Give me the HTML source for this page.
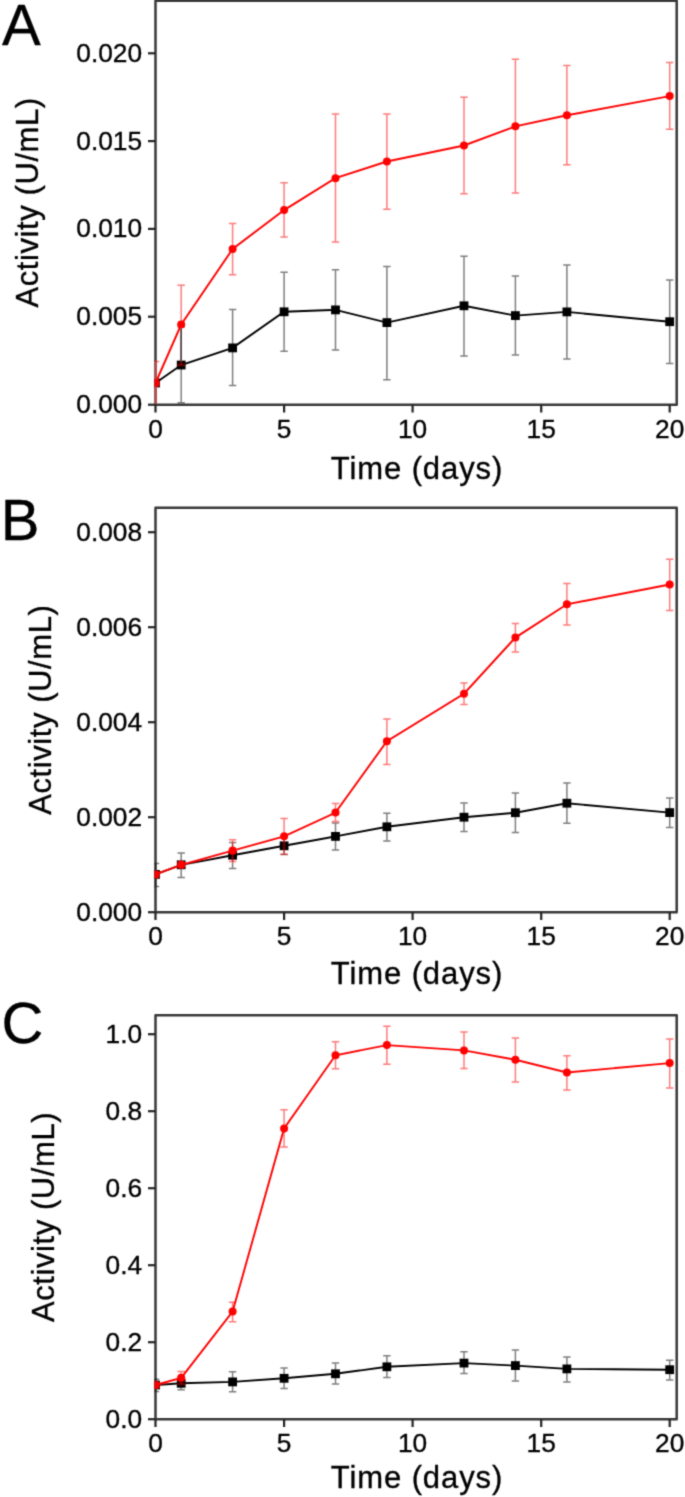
<!DOCTYPE html>
<html lang="en"><head><meta charset="utf-8"><title>Activity vs time</title>
<style>
html,body{margin:0;padding:0;background:#fff;}
body{width:685px;height:1497px;overflow:hidden;}
svg{display:block;}
text{font-family:"Liberation Sans",Arial,Helvetica,sans-serif;fill:#000;stroke:#000;stroke-width:0.35px;}
.tick{font-size:26.3px;}
.title{font-size:31px;letter-spacing:0.58px;}
.letter{font-size:58px;}
</style></head><body>
<svg width="685" height="1497" viewBox="0 0 685 1497">
<defs><filter id="soft" x="0" y="0" width="685" height="1497" filterUnits="userSpaceOnUse"><feConvolveMatrix order="3" kernelMatrix="1 4 1 4 16 4 1 4 1" edgeMode="duplicate" preserveAlpha="false"/></filter></defs>
<rect x="0" y="0" width="685" height="1497" fill="#fff"/>
<g filter="url(#soft)">

<g>
<rect x="155.5" y="0.7" width="521.2" height="404" fill="none" stroke="#383838" stroke-width="2.5" stroke-linejoin="round"/>
<line x1="148" y1="404.7" x2="155.5" y2="404.7" stroke="#222" stroke-width="2.2"/>
<text class="tick" x="142.1" y="413.2" text-anchor="end">0.000</text>
<line x1="148" y1="316.7" x2="155.5" y2="316.7" stroke="#222" stroke-width="2.2"/>
<text class="tick" x="142.1" y="325.2" text-anchor="end">0.005</text>
<line x1="148" y1="228.9" x2="155.5" y2="228.9" stroke="#222" stroke-width="2.2"/>
<text class="tick" x="142.1" y="237.4" text-anchor="end">0.010</text>
<line x1="148" y1="141.1" x2="155.5" y2="141.1" stroke="#222" stroke-width="2.2"/>
<text class="tick" x="142.1" y="149.6" text-anchor="end">0.015</text>
<line x1="148" y1="53.3" x2="155.5" y2="53.3" stroke="#222" stroke-width="2.2"/>
<text class="tick" x="142.1" y="61.8" text-anchor="end">0.020</text>
<line x1="155.5" y1="404.7" x2="155.5" y2="412.5" stroke="#222" stroke-width="2.2"/>
<text class="tick" x="155.5" y="437.9" text-anchor="middle">0</text>
<line x1="284.1" y1="404.7" x2="284.1" y2="412.5" stroke="#222" stroke-width="2.2"/>
<text class="tick" x="284.1" y="437.9" text-anchor="middle">5</text>
<line x1="412.6" y1="404.7" x2="412.6" y2="412.5" stroke="#222" stroke-width="2.2"/>
<text class="tick" x="412.6" y="437.9" text-anchor="middle">10</text>
<line x1="541.2" y1="404.7" x2="541.2" y2="412.5" stroke="#222" stroke-width="2.2"/>
<text class="tick" x="541.2" y="437.9" text-anchor="middle">15</text>
<line x1="669.7" y1="404.7" x2="669.7" y2="412.5" stroke="#222" stroke-width="2.2"/>
<text class="tick" x="669.7" y="437.9" text-anchor="middle">20</text>
<text class="title" style="letter-spacing:0.9px" x="417" y="479.4" text-anchor="middle">Time (days)</text>
<text class="title" transform="translate(37.8 202.4) rotate(-90)" text-anchor="middle">Activity (U/mL)</text>
<text class="letter" x="2" y="44.9">A</text>
<clipPath id="clipA"><rect x="154.5" y="0.7" width="522.2" height="404"/></clipPath>
<g clip-path="url(#clipA)">
<path d="M181.2 327V402.7M177.5 327H184.9M177.5 402.7H184.9" stroke="#000" stroke-opacity="0.5" stroke-width="1.5" fill="none"/>
<path d="M232.6 309.5V385.5M228.9 309.5H236.3M228.9 385.5H236.3" stroke="#000" stroke-opacity="0.5" stroke-width="1.5" fill="none"/>
<path d="M284.1 272.3V351.3M280.4 272.3H287.8M280.4 351.3H287.8" stroke="#000" stroke-opacity="0.5" stroke-width="1.5" fill="none"/>
<path d="M335.5 269.8V350M331.8 269.8H339.2M331.8 350H339.2" stroke="#000" stroke-opacity="0.5" stroke-width="1.5" fill="none"/>
<path d="M386.9 266.6V379.8M383.2 266.6H390.6M383.2 379.8H390.6" stroke="#000" stroke-opacity="0.5" stroke-width="1.5" fill="none"/>
<path d="M464 256.3V356.1M460.3 256.3H467.7M460.3 356.1H467.7" stroke="#000" stroke-opacity="0.5" stroke-width="1.5" fill="none"/>
<path d="M515.4 276V354.9M511.7 276H519.1M511.7 354.9H519.1" stroke="#000" stroke-opacity="0.5" stroke-width="1.5" fill="none"/>
<path d="M566.9 264.9V359M563.2 264.9H570.6M563.2 359H570.6" stroke="#000" stroke-opacity="0.5" stroke-width="1.5" fill="none"/>
<path d="M669.7 280V363.5M666 280H673.4M666 363.5H673.4" stroke="#000" stroke-opacity="0.5" stroke-width="1.5" fill="none"/>
<polyline fill="none" stroke="#000" stroke-width="1.9" points="155.5,383 181.2,365 232.6,347.9 284.1,311.8 335.5,309.9 386.9,322.6 464,305.8 515.4,315.6 566.9,311.9 669.7,321.7"/>
<rect x="151.1" y="378.6" width="8.8" height="8.8" fill="#000"/>
<rect x="176.8" y="360.6" width="8.8" height="8.8" fill="#000"/>
<rect x="228.2" y="343.5" width="8.8" height="8.8" fill="#000"/>
<rect x="279.7" y="307.4" width="8.8" height="8.8" fill="#000"/>
<rect x="331.1" y="305.5" width="8.8" height="8.8" fill="#000"/>
<rect x="382.5" y="318.2" width="8.8" height="8.8" fill="#000"/>
<rect x="459.6" y="301.4" width="8.8" height="8.8" fill="#000"/>
<rect x="511" y="311.2" width="8.8" height="8.8" fill="#000"/>
<rect x="562.5" y="307.5" width="8.8" height="8.8" fill="#000"/>
<rect x="665.3" y="317.3" width="8.8" height="8.8" fill="#000"/>
<path d="M151.8 361.6H159.2" stroke="#f00" stroke-opacity="0.52" stroke-width="1.5" fill="none"/>
<path d="M155.8 361.6V403.7" stroke="#cc4444" stroke-width="1.9" fill="none"/>
<path d="M181.2 285.2V365M177.5 285.2H184.9M177.5 365H184.9" stroke="#f00" stroke-opacity="0.52" stroke-width="1.5" fill="none"/>
<path d="M232.6 223.6V274.7M228.9 223.6H236.3M228.9 274.7H236.3" stroke="#f00" stroke-opacity="0.52" stroke-width="1.5" fill="none"/>
<path d="M284.1 182.7V237.1M280.4 182.7H287.8M280.4 237.1H287.8" stroke="#f00" stroke-opacity="0.52" stroke-width="1.5" fill="none"/>
<path d="M335.5 114.1V242M331.8 114.1H339.2M331.8 242H339.2" stroke="#f00" stroke-opacity="0.52" stroke-width="1.5" fill="none"/>
<path d="M386.9 114.1V209.3M383.2 114.1H390.6M383.2 209.3H390.6" stroke="#f00" stroke-opacity="0.52" stroke-width="1.5" fill="none"/>
<path d="M464 97.3V193.8M460.3 97.3H467.7M460.3 193.8H467.7" stroke="#f00" stroke-opacity="0.52" stroke-width="1.5" fill="none"/>
<path d="M515.4 59.3V193M511.7 59.3H519.1M511.7 193H519.1" stroke="#f00" stroke-opacity="0.52" stroke-width="1.5" fill="none"/>
<path d="M566.9 65.4V164.8M563.2 65.4H570.6M563.2 164.8H570.6" stroke="#f00" stroke-opacity="0.52" stroke-width="1.5" fill="none"/>
<path d="M669.7 62.6V129.2M666 62.6H673.4M666 129.2H673.4" stroke="#f00" stroke-opacity="0.52" stroke-width="1.5" fill="none"/>
<polyline fill="none" stroke="#f00" stroke-width="1.9" points="155.5,383 181.2,324.5 232.6,249 284.1,210.1 335.5,178.2 386.9,161.5 464,145.5 515.4,126.3 566.9,115.3 669.7,96.1"/>
<circle cx="155.5" cy="383" r="4.0" fill="#f00"/>
<circle cx="181.2" cy="324.5" r="4.0" fill="#f00"/>
<circle cx="232.6" cy="249" r="4.0" fill="#f00"/>
<circle cx="284.1" cy="210.1" r="4.0" fill="#f00"/>
<circle cx="335.5" cy="178.2" r="4.0" fill="#f00"/>
<circle cx="386.9" cy="161.5" r="4.0" fill="#f00"/>
<circle cx="464" cy="145.5" r="4.0" fill="#f00"/>
<circle cx="515.4" cy="126.3" r="4.0" fill="#f00"/>
<circle cx="566.9" cy="115.3" r="4.0" fill="#f00"/>
<circle cx="669.7" cy="96.1" r="4.0" fill="#f00"/>
<line x1="181.2" y1="328.5" x2="181.2" y2="361" stroke="#4c4848" stroke-width="1.6"/>
</g>
</g>
<g>
<rect x="155.5" y="507.8" width="521.2" height="404.4" fill="none" stroke="#383838" stroke-width="2.5" stroke-linejoin="round"/>
<line x1="148" y1="912.2" x2="155.5" y2="912.2" stroke="#222" stroke-width="2.2"/>
<text class="tick" x="142.1" y="920.7" text-anchor="end">0.000</text>
<line x1="148" y1="817.2" x2="155.5" y2="817.2" stroke="#222" stroke-width="2.2"/>
<text class="tick" x="142.1" y="825.7" text-anchor="end">0.002</text>
<line x1="148" y1="722.2" x2="155.5" y2="722.2" stroke="#222" stroke-width="2.2"/>
<text class="tick" x="142.1" y="730.7" text-anchor="end">0.004</text>
<line x1="148" y1="627.2" x2="155.5" y2="627.2" stroke="#222" stroke-width="2.2"/>
<text class="tick" x="142.1" y="635.7" text-anchor="end">0.006</text>
<line x1="148" y1="532.2" x2="155.5" y2="532.2" stroke="#222" stroke-width="2.2"/>
<text class="tick" x="142.1" y="540.7" text-anchor="end">0.008</text>
<line x1="155.5" y1="912.2" x2="155.5" y2="920" stroke="#222" stroke-width="2.2"/>
<text class="tick" x="155.5" y="945.4" text-anchor="middle">0</text>
<line x1="284.1" y1="912.2" x2="284.1" y2="920" stroke="#222" stroke-width="2.2"/>
<text class="tick" x="284.1" y="945.4" text-anchor="middle">5</text>
<line x1="412.6" y1="912.2" x2="412.6" y2="920" stroke="#222" stroke-width="2.2"/>
<text class="tick" x="412.6" y="945.4" text-anchor="middle">10</text>
<line x1="541.2" y1="912.2" x2="541.2" y2="920" stroke="#222" stroke-width="2.2"/>
<text class="tick" x="541.2" y="945.4" text-anchor="middle">15</text>
<line x1="669.7" y1="912.2" x2="669.7" y2="920" stroke="#222" stroke-width="2.2"/>
<text class="tick" x="669.7" y="945.4" text-anchor="middle">20</text>
<text class="title" style="letter-spacing:0.9px" x="417" y="984.4" text-anchor="middle">Time (days)</text>
<text class="title" transform="translate(50.7 709.7) rotate(-90)" text-anchor="middle">Activity (U/mL)</text>
<text class="letter" x="0.8" y="540">B</text>
<clipPath id="clipB"><rect x="154.5" y="507.8" width="522.2" height="404.4"/></clipPath>
<g clip-path="url(#clipB)">
<path d="M155.5 863.5V886.4M151.8 863.5H159.2M151.8 886.4H159.2" stroke="#000" stroke-opacity="0.5" stroke-width="1.5" fill="none"/>
<path d="M181.2 853.1V877.5M177.5 853.1H184.9M177.5 877.5H184.9" stroke="#000" stroke-opacity="0.5" stroke-width="1.5" fill="none"/>
<path d="M232.6 842.6V868.4M228.9 842.6H236.3M228.9 868.4H236.3" stroke="#000" stroke-opacity="0.5" stroke-width="1.5" fill="none"/>
<path d="M284.1 837.2V854.6M280.4 837.2H287.8M280.4 854.6H287.8" stroke="#000" stroke-opacity="0.5" stroke-width="1.5" fill="none"/>
<path d="M335.5 823V850M331.8 823H339.2M331.8 850H339.2" stroke="#000" stroke-opacity="0.5" stroke-width="1.5" fill="none"/>
<path d="M386.9 813.2V841M383.2 813.2H390.6M383.2 841H390.6" stroke="#000" stroke-opacity="0.5" stroke-width="1.5" fill="none"/>
<path d="M464 803V831.6M460.3 803H467.7M460.3 831.6H467.7" stroke="#000" stroke-opacity="0.5" stroke-width="1.5" fill="none"/>
<path d="M515.4 793.1V832.4M511.7 793.1H519.1M511.7 832.4H519.1" stroke="#000" stroke-opacity="0.5" stroke-width="1.5" fill="none"/>
<path d="M566.9 782.9V823.2M563.2 782.9H570.6M563.2 823.2H570.6" stroke="#000" stroke-opacity="0.5" stroke-width="1.5" fill="none"/>
<path d="M669.7 798V827.5M666 798H673.4M666 827.5H673.4" stroke="#000" stroke-opacity="0.5" stroke-width="1.5" fill="none"/>
<polyline fill="none" stroke="#000" stroke-width="1.9" points="155.5,874.4 181.2,864.8 232.6,855.3 284.1,845.8 335.5,836.4 386.9,826.8 464,817.2 515.4,812.7 566.9,803.2 669.7,812.6"/>
<rect x="151.1" y="870" width="8.8" height="8.8" fill="#000"/>
<rect x="176.8" y="860.4" width="8.8" height="8.8" fill="#000"/>
<rect x="228.2" y="850.9" width="8.8" height="8.8" fill="#000"/>
<rect x="279.7" y="841.4" width="8.8" height="8.8" fill="#000"/>
<rect x="331.1" y="832" width="8.8" height="8.8" fill="#000"/>
<rect x="382.5" y="822.4" width="8.8" height="8.8" fill="#000"/>
<rect x="459.6" y="812.8" width="8.8" height="8.8" fill="#000"/>
<rect x="511" y="808.3" width="8.8" height="8.8" fill="#000"/>
<rect x="562.5" y="798.8" width="8.8" height="8.8" fill="#000"/>
<rect x="665.3" y="808.2" width="8.8" height="8.8" fill="#000"/>
<path d="M232.6 839.8V861.4M228.9 839.8H236.3M228.9 861.4H236.3" stroke="#f00" stroke-opacity="0.52" stroke-width="1.5" fill="none"/>
<path d="M284.1 818.4V854.2M280.4 818.4H287.8M280.4 854.2H287.8" stroke="#f00" stroke-opacity="0.52" stroke-width="1.5" fill="none"/>
<path d="M335.5 803.6V821.6M331.8 803.6H339.2M331.8 821.6H339.2" stroke="#f00" stroke-opacity="0.52" stroke-width="1.5" fill="none"/>
<path d="M386.9 719V764.6M383.2 719H390.6M383.2 764.6H390.6" stroke="#f00" stroke-opacity="0.52" stroke-width="1.5" fill="none"/>
<path d="M464 682.9V704.5M460.3 682.9H467.7M460.3 704.5H467.7" stroke="#f00" stroke-opacity="0.52" stroke-width="1.5" fill="none"/>
<path d="M515.4 623.5V652M511.7 623.5H519.1M511.7 652H519.1" stroke="#f00" stroke-opacity="0.52" stroke-width="1.5" fill="none"/>
<path d="M566.9 583.6V625M563.2 583.6H570.6M563.2 625H570.6" stroke="#f00" stroke-opacity="0.52" stroke-width="1.5" fill="none"/>
<path d="M669.7 559.3V610.6M666 559.3H673.4M666 610.6H673.4" stroke="#f00" stroke-opacity="0.52" stroke-width="1.5" fill="none"/>
<polyline fill="none" stroke="#f00" stroke-width="1.9" points="155.5,874.4 181.2,864.8 232.6,850.6 284.1,836.3 335.5,812.6 386.9,741.2 464,693.7 515.4,637.6 566.9,604.3 669.7,584.5"/>
<circle cx="155.5" cy="874.4" r="4.0" fill="#f00"/>
<circle cx="181.2" cy="864.8" r="4.0" fill="#f00"/>
<circle cx="232.6" cy="850.6" r="4.0" fill="#f00"/>
<circle cx="284.1" cy="836.3" r="4.0" fill="#f00"/>
<circle cx="335.5" cy="812.6" r="4.0" fill="#f00"/>
<circle cx="386.9" cy="741.2" r="4.0" fill="#f00"/>
<circle cx="464" cy="693.7" r="4.0" fill="#f00"/>
<circle cx="515.4" cy="637.6" r="4.0" fill="#f00"/>
<circle cx="566.9" cy="604.3" r="4.0" fill="#f00"/>
<circle cx="669.7" cy="584.5" r="4.0" fill="#f00"/>
</g>
</g>
<g>
<rect x="155.5" y="1015.3" width="521.2" height="403.9" fill="none" stroke="#383838" stroke-width="2.5" stroke-linejoin="round"/>
<line x1="148" y1="1419.2" x2="155.5" y2="1419.2" stroke="#222" stroke-width="2.2"/>
<text class="tick" x="142.1" y="1427.7" text-anchor="end">0.0</text>
<line x1="148" y1="1342.2" x2="155.5" y2="1342.2" stroke="#222" stroke-width="2.2"/>
<text class="tick" x="142.1" y="1350.7" text-anchor="end">0.2</text>
<line x1="148" y1="1265.2" x2="155.5" y2="1265.2" stroke="#222" stroke-width="2.2"/>
<text class="tick" x="142.1" y="1273.7" text-anchor="end">0.4</text>
<line x1="148" y1="1188.2" x2="155.5" y2="1188.2" stroke="#222" stroke-width="2.2"/>
<text class="tick" x="142.1" y="1196.7" text-anchor="end">0.6</text>
<line x1="148" y1="1111.2" x2="155.5" y2="1111.2" stroke="#222" stroke-width="2.2"/>
<text class="tick" x="142.1" y="1119.7" text-anchor="end">0.8</text>
<line x1="148" y1="1034.2" x2="155.5" y2="1034.2" stroke="#222" stroke-width="2.2"/>
<text class="tick" x="142.1" y="1042.7" text-anchor="end">1.0</text>
<line x1="155.5" y1="1419.2" x2="155.5" y2="1427" stroke="#222" stroke-width="2.2"/>
<text class="tick" x="155.5" y="1452.4" text-anchor="middle">0</text>
<line x1="284.1" y1="1419.2" x2="284.1" y2="1427" stroke="#222" stroke-width="2.2"/>
<text class="tick" x="284.1" y="1452.4" text-anchor="middle">5</text>
<line x1="412.6" y1="1419.2" x2="412.6" y2="1427" stroke="#222" stroke-width="2.2"/>
<text class="tick" x="412.6" y="1452.4" text-anchor="middle">10</text>
<line x1="541.2" y1="1419.2" x2="541.2" y2="1427" stroke="#222" stroke-width="2.2"/>
<text class="tick" x="541.2" y="1452.4" text-anchor="middle">15</text>
<line x1="669.7" y1="1419.2" x2="669.7" y2="1427" stroke="#222" stroke-width="2.2"/>
<text class="tick" x="669.7" y="1452.4" text-anchor="middle">20</text>
<text class="title" style="letter-spacing:0.9px" x="417" y="1488.0" text-anchor="middle">Time (days)</text>
<text class="title" transform="translate(53.7 1217) rotate(-90)" text-anchor="middle">Activity (U/mL)</text>
<text class="letter" x="1.6" y="1042.8">C</text>
<clipPath id="clipC"><rect x="154.5" y="1015.3" width="522.2" height="403.9"/></clipPath>
<g clip-path="url(#clipC)">
<path d="M155.5 1379.3V1391.5M151.8 1379.3H159.2M151.8 1391.5H159.2" stroke="#000" stroke-opacity="0.5" stroke-width="1.5" fill="none"/>
<path d="M181.2 1377.5V1389.7M177.5 1377.5H184.9M177.5 1389.7H184.9" stroke="#000" stroke-opacity="0.5" stroke-width="1.5" fill="none"/>
<path d="M232.6 1371.7V1391.8M228.9 1371.7H236.3M228.9 1391.8H236.3" stroke="#000" stroke-opacity="0.5" stroke-width="1.5" fill="none"/>
<path d="M284.1 1368V1388.5M280.4 1368H287.8M280.4 1388.5H287.8" stroke="#000" stroke-opacity="0.5" stroke-width="1.5" fill="none"/>
<path d="M335.5 1363.1V1384M331.8 1363.1H339.2M331.8 1384H339.2" stroke="#000" stroke-opacity="0.5" stroke-width="1.5" fill="none"/>
<path d="M386.9 1355.8V1377.4M383.2 1355.8H390.6M383.2 1377.4H390.6" stroke="#000" stroke-opacity="0.5" stroke-width="1.5" fill="none"/>
<path d="M464 1351.7V1373.4M460.3 1351.7H467.7M460.3 1373.4H467.7" stroke="#000" stroke-opacity="0.5" stroke-width="1.5" fill="none"/>
<path d="M515.4 1350V1381.1M511.7 1350H519.1M511.7 1381.1H519.1" stroke="#000" stroke-opacity="0.5" stroke-width="1.5" fill="none"/>
<path d="M566.9 1357V1381.9M563.2 1357H570.6M563.2 1381.9H570.6" stroke="#000" stroke-opacity="0.5" stroke-width="1.5" fill="none"/>
<path d="M669.7 1360.3V1379.9M666 1360.3H673.4M666 1379.9H673.4" stroke="#000" stroke-opacity="0.5" stroke-width="1.5" fill="none"/>
<polyline fill="none" stroke="#000" stroke-width="1.9" points="155.5,1385 181.2,1383.3 232.6,1381.9 284.1,1378.3 335.5,1373.8 386.9,1366.8 464,1363.1 515.4,1365.6 566.9,1368.9 669.7,1369.7"/>
<rect x="151.1" y="1380.6" width="8.8" height="8.8" fill="#000"/>
<rect x="176.8" y="1378.9" width="8.8" height="8.8" fill="#000"/>
<rect x="228.2" y="1377.5" width="8.8" height="8.8" fill="#000"/>
<rect x="279.7" y="1373.9" width="8.8" height="8.8" fill="#000"/>
<rect x="331.1" y="1369.4" width="8.8" height="8.8" fill="#000"/>
<rect x="382.5" y="1362.4" width="8.8" height="8.8" fill="#000"/>
<rect x="459.6" y="1358.7" width="8.8" height="8.8" fill="#000"/>
<rect x="511" y="1361.2" width="8.8" height="8.8" fill="#000"/>
<rect x="562.5" y="1364.5" width="8.8" height="8.8" fill="#000"/>
<rect x="665.3" y="1365.3" width="8.8" height="8.8" fill="#000"/>
<path d="M181.2 1371.6V1384M177.5 1371.6H184.9M177.5 1384H184.9" stroke="#f00" stroke-opacity="0.52" stroke-width="1.5" fill="none"/>
<path d="M232.6 1302.2V1321.8M228.9 1302.2H236.3M228.9 1321.8H236.3" stroke="#f00" stroke-opacity="0.52" stroke-width="1.5" fill="none"/>
<path d="M284.1 1109.7V1146.9M280.4 1109.7H287.8M280.4 1146.9H287.8" stroke="#f00" stroke-opacity="0.52" stroke-width="1.5" fill="none"/>
<path d="M335.5 1041.8V1068.8M331.8 1041.8H339.2M331.8 1068.8H339.2" stroke="#f00" stroke-opacity="0.52" stroke-width="1.5" fill="none"/>
<path d="M386.9 1026.3V1064.3M383.2 1026.3H390.6M383.2 1064.3H390.6" stroke="#f00" stroke-opacity="0.52" stroke-width="1.5" fill="none"/>
<path d="M464 1032V1068.4M460.3 1032H467.7M460.3 1068.4H467.7" stroke="#f00" stroke-opacity="0.52" stroke-width="1.5" fill="none"/>
<path d="M515.4 1038.1V1081.9M511.7 1038.1H519.1M511.7 1081.9H519.1" stroke="#f00" stroke-opacity="0.52" stroke-width="1.5" fill="none"/>
<path d="M566.9 1055.7V1090M563.2 1055.7H570.6M563.2 1090H570.6" stroke="#f00" stroke-opacity="0.52" stroke-width="1.5" fill="none"/>
<path d="M669.7 1038.9V1088M666 1038.9H673.4M666 1088H673.4" stroke="#f00" stroke-opacity="0.52" stroke-width="1.5" fill="none"/>
<polyline fill="none" stroke="#f00" stroke-width="1.9" points="155.5,1385 181.2,1377.8 232.6,1311.6 284.1,1128.5 335.5,1055.3 386.9,1045.1 464,1050.4 515.4,1059.8 566.9,1072.5 669.7,1063.1"/>
<circle cx="155.5" cy="1385" r="4.0" fill="#f00"/>
<circle cx="181.2" cy="1377.8" r="4.0" fill="#f00"/>
<circle cx="232.6" cy="1311.6" r="4.0" fill="#f00"/>
<circle cx="284.1" cy="1128.5" r="4.0" fill="#f00"/>
<circle cx="335.5" cy="1055.3" r="4.0" fill="#f00"/>
<circle cx="386.9" cy="1045.1" r="4.0" fill="#f00"/>
<circle cx="464" cy="1050.4" r="4.0" fill="#f00"/>
<circle cx="515.4" cy="1059.8" r="4.0" fill="#f00"/>
<circle cx="566.9" cy="1072.5" r="4.0" fill="#f00"/>
<circle cx="669.7" cy="1063.1" r="4.0" fill="#f00"/>
</g>
</g>
</g>
</svg>
</body></html>
